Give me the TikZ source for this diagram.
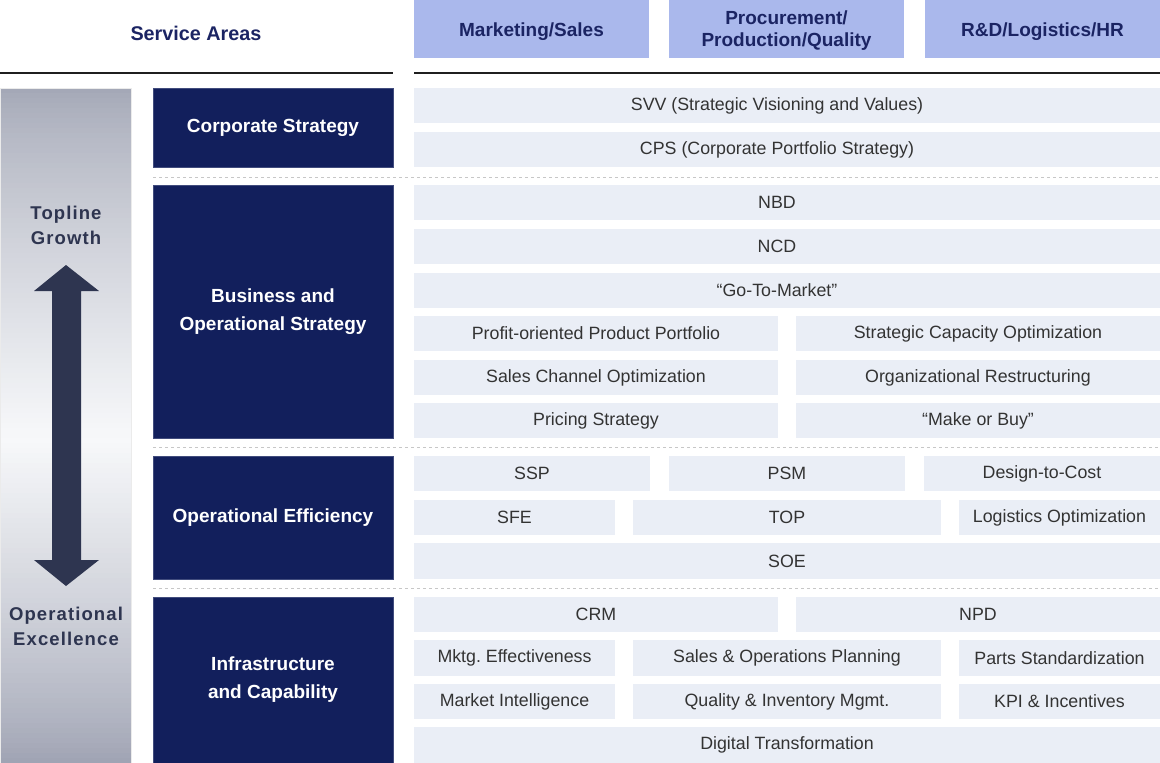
\documentclass[tikz,border=0pt]{standalone}
\usepackage{fontspec}
\setmainfont{Liberation Sans}
\newfontfamily\spacedfont[LetterSpace=6]{Liberation Sans}
\frenchspacing
\definecolor{navy}{HTML}{121F5C}
\definecolor{hdrfill}{HTML}{AAB8EC}
\definecolor{hdrtext}{HTML}{1B2463}
\definecolor{cellfill}{HTML}{EAEEF6}
\definecolor{celltext}{HTML}{333333}
\definecolor{arrowc}{HTML}{2E3550}
\definecolor{bartop}{HTML}{A2A6B5}
\definecolor{barmid}{HTML}{F7F8FA}
\definecolor{barbot}{HTML}{9EA2B2}
\tikzset{
  cell/.style={fill=cellfill, draw=none, inner sep=0pt, outer sep=0pt, text=celltext, font=\fontsize{17.8}{21}\selectfont, align=center},
  hdr/.style={fill=hdrfill, draw=none, inner sep=0pt, outer sep=0pt, text=hdrtext, font=\fontsize{19}{22}\selectfont\bfseries, align=center},
  lbox/.style={fill=navy, draw=navy!80!white, line width=0.6pt, inner sep=0pt, outer sep=0pt, text=white, font=\fontsize{19}{28}\selectfont\bfseries, align=center},
  sep/.style={draw=black!22, line width=0.8pt, dash pattern=on 3pt off 3pt},
  rule/.style={draw=black!88, line width=2pt},
  sidetext/.style={text=arrowc, font=\fontsize{18.5}{25}\selectfont\bfseries\spacedfont, align=center},
  lefttxt/.style={text depth=0pt, xshift=-10pt}
}
\newcommand\bx[7]{\node[#1, minimum width={(#5-#3)*1pt}, minimum height={(#6-#4)*1pt}] (#2) at ({(#3+#5)/2},{(#4+#6)/2}) {#7};}
% box with text placed separately (offset text)
\newcommand\bxo[9]{\node[#1, minimum width={(#5-#3)*1pt}, minimum height={(#6-#4)*1pt}] (#2) at ({(#3+#5)/2},{(#4+#6)/2}) {};
  \node[#1, fill=none, minimum width=0pt, minimum height=0pt] (#2t) at ([xshift=#7pt,yshift=#8pt]#2.center) {#9};}
\begin{document}
\begin{tikzpicture}[x=1pt,y=-1pt]
\useasboundingbox (0,0) rectangle (1160,763);
% header
\node[text=hdrtext, font=\fontsize{19.8}{22}\selectfont\bfseries] (sa) at (196,33) {Service Areas};
\bxo{hdr}{h1}{414}{0}{649}{58}{0}{-3}{Marketing/Sales}
\bxo{hdr}{h2}{669}{0}{904}{58}{0}{-2}{Procurement/\\Production/Quality}
\bxo{hdr}{h3}{925}{0}{1160}{58}{0}{-3}{R\&D/Logistics/HR}
\coordinate (r1a) at (0,73); \coordinate (r1b) at (393,73);
\coordinate (r2a) at (414,73); \coordinate (r2b) at (1160,73);
\draw[rule] (r1a) -- (r1b);
\draw[rule] (r2a) -- (r2b);
% gradient bar (strips)
\foreach \i in {0,...,134}{
  \pgfmathsetmacro\yy{88+5*\i}
  \pgfmathsetmacro\yz{min(763,\yy+5.6)}
  \pgfmathsetmacro\tt{(\yy+2.5-88)/675}
  \ifdim\tt pt<0.52pt
    \pgfmathsetmacro\pp{100*(\tt/0.52)^0.75}
    \colorlet{stripc}{barmid!\pp!bartop}
  \else
    \pgfmathsetmacro\pp{100*((1-\tt)/0.48)^0.8}
    \colorlet{stripc}{barmid!\pp!barbot}
  \fi
  \fill[stripc] (0,\yy) rectangle (132,\yz);
}
\draw[black!8, line width=0.6pt] (0.3,88) rectangle (131.7,763);
\node[sidetext] (tg) at (66,225) {Topline\\Growth};
\node[sidetext] (oe) at (66,626) {Operational\\Excellence};
\fill[arrowc] (66,265) -- (99,291) -- (81,291) -- (81,560) -- (99,560) -- (66,586) -- (34,560) -- (52,560) -- (52,291) -- (34,291) -- cycle;
% separators
\coordinate (s1a) at (153,177); \coordinate (s1b) at (1160,177);
\coordinate (s2a) at (153,447); \coordinate (s2b) at (1160,447);
\coordinate (s3a) at (153,588); \coordinate (s3b) at (1160,588);
\draw[sep] (s1a) -- (s1b);
\draw[sep] (s2a) -- (s2b);
\draw[sep] (s3a) -- (s3b);
% left boxes
\bx{lbox}{cs}{153}{88}{393}{167}{Corporate Strategy}
\bx{lbox}{bos}{153}{185}{393}{438}{Business and\\Operational Strategy}
\bx{lbox}{oef}{153}{456}{393}{579}{Operational Efficiency}
\bx{lbox}{ic}{153}{597}{393}{763}{Infrastructure\\and Capability}
% corporate strategy
\bxo{cell}{svv}{414}{88}{1160}{123}{-10}{0}{SVV (Strategic Visioning and Values)}
\bxo{cell}{cps}{414}{132}{1160}{167}{-10}{0}{CPS (Corporate Portfolio Strategy)}
% business and operational strategy
\bxo{cell}{nbd}{414}{185}{1160}{220}{-10}{0}{NBD}
\bxo{cell}{ncd}{414}{229}{1160}{264}{-10}{0}{NCD}
\bxo{cell}{gtm}{414}{273}{1160}{308}{-10}{0}{“Go-To-Market”}
\bx{cell}{ppp}{414}{316}{778}{351}{Profit-oriented Product Portfolio}
\bx{cell}{sco}{796}{316}{1160}{351}{Strategic Capacity Optimization}
\bx{cell}{sch}{414}{360}{778}{395}{Sales Channel Optimization}
\bx{cell}{ore}{796}{360}{1160}{395}{Organizational Restructuring}
\bx{cell}{prs}{414}{403}{778}{438}{Pricing Strategy}
\bx{cell}{mob}{796}{403}{1160}{438}{“Make or Buy”}
% operational efficiency
\bx{cell}{ssp}{414}{456}{650}{491}{SSP}
\bx{cell}{psm}{669}{456}{905}{491}{PSM}
\bx{cell}{dtc}{924}{456}{1160}{491}{Design-to-Cost}
\bx{cell}{sfe}{414}{500}{615}{535}{SFE}
\bx{cell}{top}{633}{500}{941}{535}{TOP}
\bx{cell}{lgo}{959}{500}{1160}{535}{Logistics Optimization}
\bx{cell}{soe}{414}{543}{1160}{579}{SOE}
% infrastructure and capability
\bx{cell}{crm}{414}{597}{778}{632}{CRM}
\bx{cell}{npd}{796}{597}{1160}{632}{NPD}
\bx{cell}{mke}{414}{640}{615}{676}{Mktg. Effectiveness}
\bx{cell}{sop}{633}{640}{941}{676}{Sales \& Operations Planning}
\bx{cell}{pst}{959}{640}{1160}{676}{Parts Standardization}
\bx{cell}{mki}{414}{684}{615}{719}{Market Intelligence}
\bx{cell}{qim}{633}{684}{941}{719}{Quality \& Inventory Mgmt.}
\bx{cell}{kpi}{959}{684}{1160}{719}{KPI \& Incentives}
\bx{cell}{dgt}{414}{727}{1160}{763}{Digital Transformation}
\end{tikzpicture}
\end{document}
